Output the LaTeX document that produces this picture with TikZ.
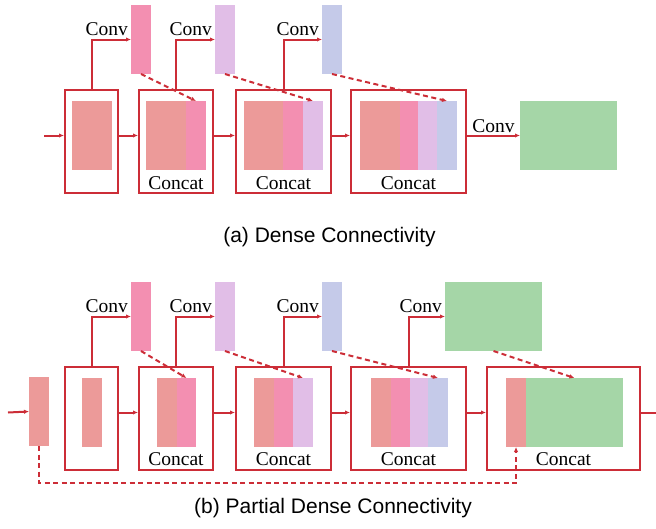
\documentclass[tikz,border=0pt]{standalone}
\usepackage{fontspec}
\setmainfont{Liberation Serif}
\setsansfont{Liberation Sans}
\usetikzlibrary{arrows.meta}

\definecolor{linered}{RGB}{204,45,55}
\definecolor{fsalmon}{RGB}{236,154,153}
\definecolor{fpink}{RGB}{243,143,177}
\definecolor{flilac}{RGB}{225,190,231}
\definecolor{fblue}{RGB}{197,202,233}
\definecolor{fgreen}{RGB}{165,214,167}

\tikzset{
        blk/.style={draw=linered, line width=2pt, inner sep=0pt, minimum height=103pt},
        feat/.style={inner sep=0pt, outer sep=0pt, minimum height=69pt},
        arr/.style={draw=linered, line width=2pt, -{Latex[length=5pt,width=4.5pt]}},
        dsh/.style={arr, dash pattern=on 5pt off 3.5pt},
        lab/.style={font=\fontsize{19.5}{20}\selectfont, inner sep=0pt},
        captxt/.style={font=\sffamily\fontsize{21}{24}\selectfont, inner sep=0pt}
}

\begin{document}
\begin{tikzpicture}[x=1pt, y=-1pt]
        \useasboundingbox (0,0) rectangle (656,528);

        \node[blk, minimum width=53pt] (a1) at (91.5,141.5) {};
        \node[feat, fill=fsalmon, minimum width=40pt] (a1s) at (92,135.5) {};
        \node[blk, minimum width=74pt] (a2) at (176,141.5) {};
        \node[feat, fill=fsalmon, minimum width=40pt] (a2s) at (166,135.5) {};
        \node[feat, fill=fpink, minimum width=20pt] (a2p) at (196,135.5) {};
        \node[blk, minimum width=95pt] (a3) at (283.5,141.5) {};
        \node[feat, fill=fsalmon, minimum width=39pt] (a3s) at (263.5,135.5) {};
        \node[feat, fill=fpink, minimum width=20pt] (a3p) at (293,135.5) {};
        \node[feat, fill=flilac, minimum width=20pt] (a3l) at (313,135.5) {};
        \node[blk, minimum width=115pt] (a4) at (408.5,141.5) {};
        \node[feat, fill=fsalmon, minimum width=40pt] (a4s) at (380,135.5) {};
        \node[feat, fill=fpink, minimum width=18pt] (a4p) at (409,135.5) {};
        \node[feat, fill=flilac, minimum width=19pt] (a4l) at (427.5,135.5) {};
        \node[feat, fill=fblue, minimum width=20pt] (a4b) at (447,135.5) {};
        \node[feat, fill=fgreen, minimum width=97pt] (aout) at (568.5,135.5) {};
        \node[feat, fill=fpink, minimum width=20pt] (ac1) at (141,39.5) {};
        \node[feat, fill=flilac, minimum width=20pt] (ac2) at (225,39.5) {};
        \node[feat, fill=fblue, minimum width=20pt] (ac3) at (332,39.5) {};
        \coordinate (ain) at (44,135.5);

        \draw[arr] (ain) -- (a1.west |- ain);
        \draw[arr] (a1.east |- ain) -- (a2.west |- ain);
        \draw[arr] (a2.east |- ain) -- (a3.west |- ain);
        \draw[arr] (a3.east |- ain) -- (a4.west |- ain);
        \draw[arr] (a4.east |- ain) -- node[lab, anchor=base, yshift=3pt] (aconv) {Conv} (aout.west);

        \draw[arr] (a1.north) |- (ac1.west);
        \draw[arr] (a2.north) |- (ac2.west);
        \draw[arr] (a3.north) |- (ac3.west);
        \draw[dsh] (ac1.south) -- (a2p.north);
        \draw[dsh] (ac2.south) -- (a3l.north);
        \draw[dsh] (ac3.south) -- (a4b.north);

        \node[lab, anchor=base east] (ac1t) at ([xshift=-3pt,yshift=4pt]ac1.west) {Conv};
        \node[lab, anchor=base east] (ac2t) at ([xshift=-3pt,yshift=4pt]ac2.west) {Conv};
        \node[lab, anchor=base east] (ac3t) at ([xshift=-3pt,yshift=4pt]ac3.west) {Conv};
        \node[lab, anchor=base] (a2t) at ([yshift=5pt]a2.south) {Concat};
        \node[lab, anchor=base] (a3t) at ([yshift=5pt]a3.south) {Concat};
        \node[lab, anchor=base] (a4t) at ([yshift=5pt]a4.south) {Concat};

        \node[captxt] (capa) at (329.5,237) {(a) Dense Connectivity};

        \node[feat, fill=fsalmon, minimum width=20pt] (bin) at (39,411.5) {};
        \node[blk, minimum width=53pt] (b1) at (91.5,418) {};
        \node[feat, fill=fsalmon, minimum width=20pt] (b1s) at (92,412.5) {};
        \node[blk, minimum width=74pt] (b2) at (176,418) {};
        \node[feat, fill=fsalmon, minimum width=20pt] (b2s) at (167,412.5) {};
        \node[feat, fill=fpink, minimum width=19pt] (b2p) at (186.5,412.5) {};
        \node[blk, minimum width=95pt] (b3) at (283.5,418) {};
        \node[feat, fill=fsalmon, minimum width=20pt] (b3s) at (264,412.5) {};
        \node[feat, fill=fpink, minimum width=19pt] (b3p) at (283.5,412.5) {};
        \node[feat, fill=flilac, minimum width=20pt] (b3l) at (303,412.5) {};
        \node[blk, minimum width=115pt] (b4) at (408.5,418) {};
        \node[feat, fill=fsalmon, minimum width=20pt] (b4s) at (381,412.5) {};
        \node[feat, fill=fpink, minimum width=19pt] (b4p) at (400.5,412.5) {};
        \node[feat, fill=flilac, minimum width=18pt] (b4l) at (419,412.5) {};
        \node[feat, fill=fblue, minimum width=20pt] (b4b) at (438,412.5) {};
        \node[blk, minimum width=153pt] (b5) at (563.5,418) {};
        \node[feat, fill=fsalmon, minimum width=20pt] (b5s) at (516,412.5) {};
        \node[feat, fill=fgreen, minimum width=97pt] (b5g) at (574.5,412.5) {};
        \node[feat, fill=fpink, minimum width=20pt] (bc1) at (141,316.5) {};
        \node[feat, fill=flilac, minimum width=20pt] (bc2) at (225,316.5) {};
        \node[feat, fill=fblue, minimum width=20pt] (bc3) at (332,316.5) {};
        \node[feat, fill=fgreen, minimum width=97pt] (bc4) at (493.5,316.5) {};
        \coordinate (bstart) at (8,412.5);
        \coordinate (bend) at (656,412.5);
        \coordinate (bskip) at (39,483);

        \draw[arr] (bstart) -- (bin.west);
        \draw[arr] (b1.east |- bstart) -- (b2.west |- bstart);
        \draw[arr] (b2.east |- bstart) -- (b3.west |- bstart);
        \draw[arr] (b3.east |- bstart) -- (b4.west |- bstart);
        \draw[arr] (b4.east |- bstart) -- (b5.west |- bstart);
        \draw[draw=linered, line width=2pt] (b5.east |- bstart) -- (bend);

        \draw[arr] (b1.north) |- (bc1.west);
        \draw[arr] (b2.north) |- (bc2.west);
        \draw[arr] (b3.north) |- (bc3.west);
        \draw[arr] (b4.north) |- (bc4.west);
        \draw[dsh] (bc1.south) -- (b2p.north);
        \draw[dsh] (bc2.south) -- (b3l.north);
        \draw[dsh] (bc3.south) -- (b4b.north);
        \draw[dsh] (bc4.south) -- (b5g.north);
        \draw[dsh] (bin.south) -- (bskip) -| (b5s.south);

        \node[lab, anchor=base east] (bc1t) at ([xshift=-3pt,yshift=4pt]bc1.west) {Conv};
        \node[lab, anchor=base east] (bc2t) at ([xshift=-3pt,yshift=4pt]bc2.west) {Conv};
        \node[lab, anchor=base east] (bc3t) at ([xshift=-3pt,yshift=4pt]bc3.west) {Conv};
        \node[lab, anchor=base east] (bc4t) at ([xshift=-3pt,yshift=4pt]bc4.west) {Conv};
        \node[lab, anchor=base] (b2t) at ([yshift=5pt]b2.south) {Concat};
        \node[lab, anchor=base] (b3t) at ([yshift=5pt]b3.south) {Concat};
        \node[lab, anchor=base] (b4t) at ([yshift=5pt]b4.south) {Concat};
        \node[lab, anchor=base] (b5t) at ([yshift=5pt]b5.south) {Concat};

        \node[captxt] (capb) at (333,508) {(b) Partial Dense Connectivity};
\end{tikzpicture}
\end{document}
